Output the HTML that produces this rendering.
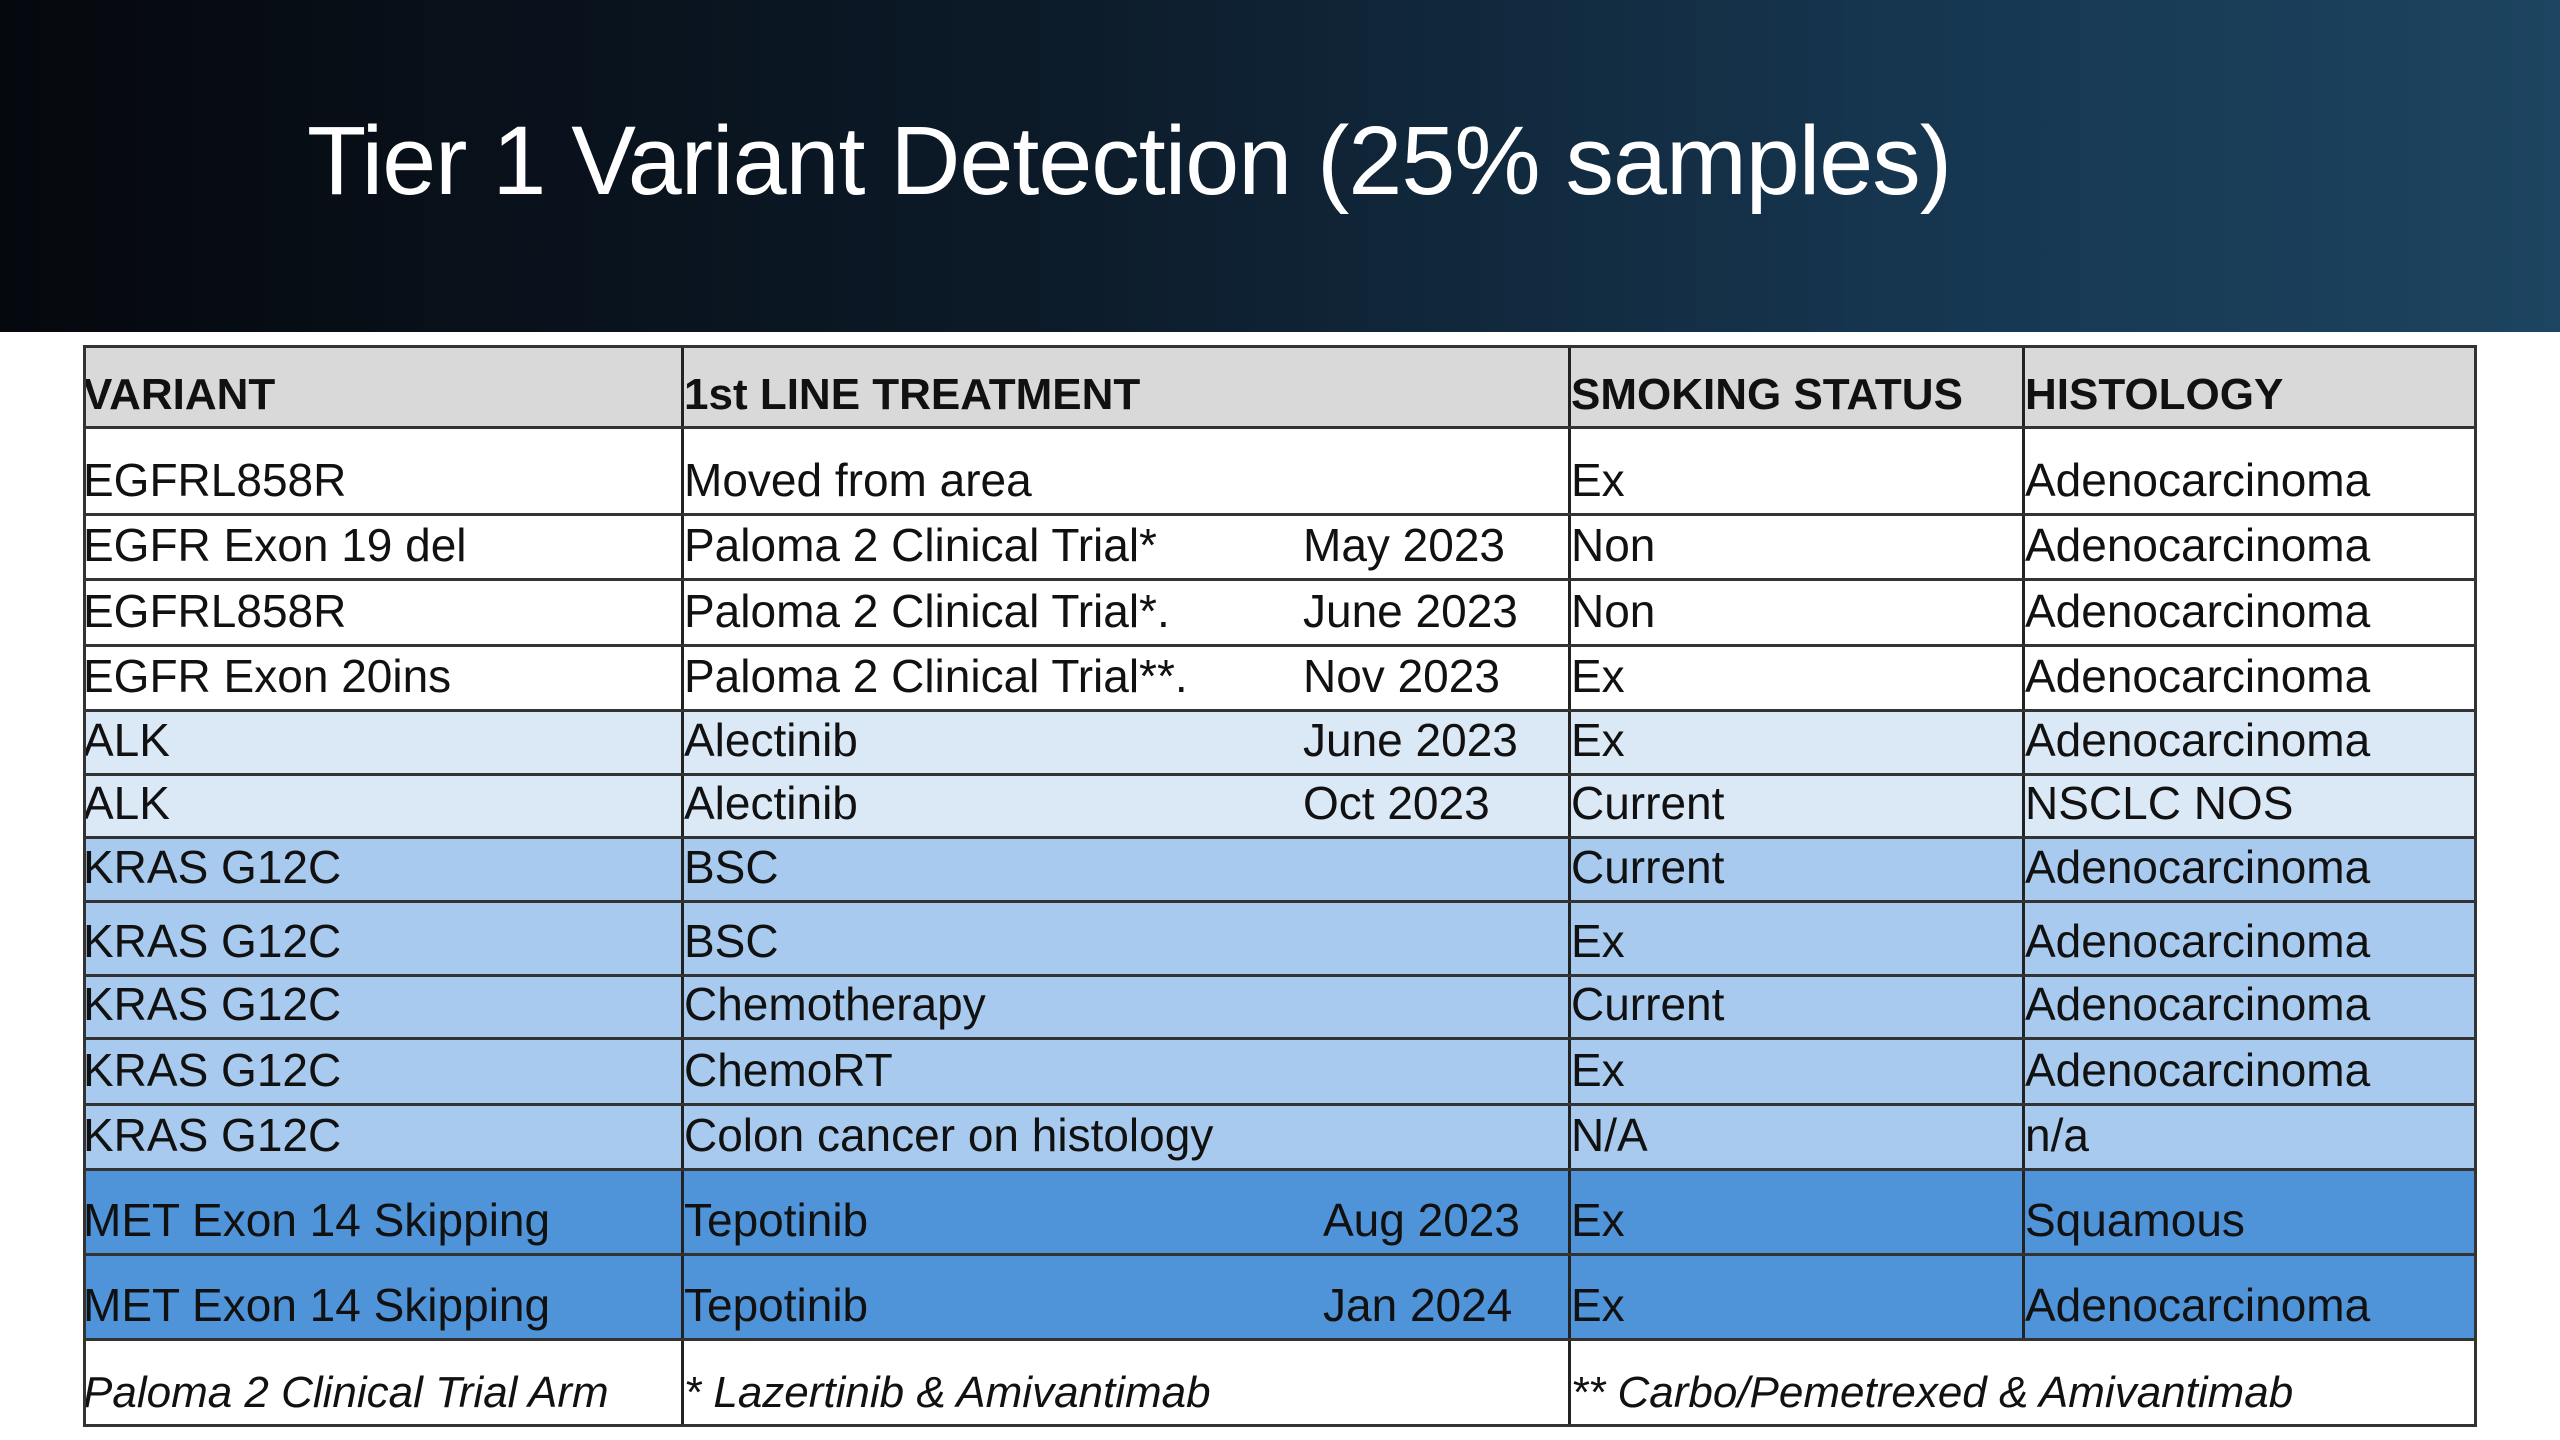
<!DOCTYPE html>
<html><head><meta charset="utf-8"><style>
body{margin:0;width:2560px;height:1440px;background:#fff;position:relative;overflow:hidden;font-family:"Liberation Sans",Arial,sans-serif;}
#band{position:absolute;left:0;top:0;width:2560px;height:332px;background:linear-gradient(90deg,#05080d 0%,#0c1a28 40%,#163650 75%,#1d4460 100%);}
#title{position:absolute;left:307px;top:105px;font-size:97px;color:#fff;white-space:nowrap;letter-spacing:-1px;}
.row{position:absolute;left:83px;width:2394px;border-bottom:3px solid #333;box-sizing:border-box;}
.c{position:absolute;top:0;bottom:0;border-left:3px solid #222;box-sizing:border-box;font-size:46px;color:#111;white-space:nowrap;display:flex;align-items:flex-end;padding-bottom:6px;}
.d{position:absolute;font-size:46px;color:#111;white-space:nowrap;bottom:6px;}
#tbl{position:absolute;left:83px;top:345px;width:2394px;height:1082px;border:3px solid #333;box-sizing:border-box;pointer-events:none;}
</style></head><body>
<div id="band"></div>
<div id="title">Tier 1 Variant Detection (25% samples)</div>
<div id="rows"></div>
<div id="tbl"></div>
<script>
const bounds=[345,429,516,581,647,712,776,839,903,977,1040,1106,1171,1256,1341,1427];
const cols=[0,598,1485,1939];
const rows=[
["VARIANT","1st LINE TREATMENT","","SMOKING STATUS","HISTOLOGY","#d9d9d9","h"],
["EGFRL858R","Moved from area","","Ex","Adenocarcinoma","#ffffff",""],
["EGFR Exon 19 del","Paloma 2 Clinical Trial*","May 2023","Non","Adenocarcinoma","#ffffff",""],
["EGFRL858R","Paloma 2 Clinical Trial*.","June 2023","Non","Adenocarcinoma","#ffffff",""],
["EGFR Exon 20ins","Paloma 2 Clinical Trial**.","Nov 2023","Ex","Adenocarcinoma","#ffffff",""],
["ALK","Alectinib","June 2023","Ex","Adenocarcinoma","#dbe8f6",""],
["ALK","Alectinib","Oct 2023","Current","NSCLC NOS","#dbe8f6",""],
["KRAS G12C","BSC","","Current","Adenocarcinoma","#a8caee",""],
["KRAS G12C","BSC","","Ex","Adenocarcinoma","#a8caee",""],
["KRAS G12C","Chemotherapy","","Current","Adenocarcinoma","#a8caee",""],
["KRAS G12C","ChemoRT","","Ex","Adenocarcinoma","#a8caee",""],
["KRAS G12C","Colon cancer on histology","","N/A","n/a","#a8caee",""],
["MET Exon 14 Skipping","Tepotinib","Aug 2023","Ex","Squamous","#4f93d9","m"],
["MET Exon 14 Skipping","Tepotinib","Jan 2024","Ex","Adenocarcinoma","#4f93d9","m"],
["Paloma 2 Clinical Trial Arm","* Lazertinib & Amivantimab","","** Carbo/Pemetrexed & Amivantimab","","#ffffff","f"]
];
const host=document.getElementById('rows');
rows.forEach((r,i)=>{
  const row=document.createElement('div');
  
  
  row.className='row';
  row.style.top=bounds[i]+'px';
  row.style.height=(bounds[i+1]-bounds[i])+'px';
  row.style.background=r[5];
  const texts=[r[0],r[1],r[3],r[4]];
  const colsUse = r[6]==='f' ? [0,598,1485] : cols;
  colsUse.forEach((x,j)=>{
    const c=document.createElement('div');
    
    
    c.className='c';
    c.style.left=x+'px';
    c.style.width=((colsUse[j+1]||2394)-x)+'px';
    if(j===0)c.style.borderLeft='none';
    c.textContent=texts[j];
    if(r[6]==='h'){c.style.fontWeight='bold';c.style.fontSize='44px';}
    if(r[6]==='f'){c.style.fontStyle='italic';c.style.fontSize='44px';}
    row.appendChild(c);
  });
  if(r[2]){
    const d=document.createElement('div');
    
    
    d.className='d';
    d.style.left=(r[6]==='m'?1240:1220)+'px';
    d.textContent=r[2];
    row.appendChild(d);
  }
  host.appendChild(row);
});
</script>
</body></html>
